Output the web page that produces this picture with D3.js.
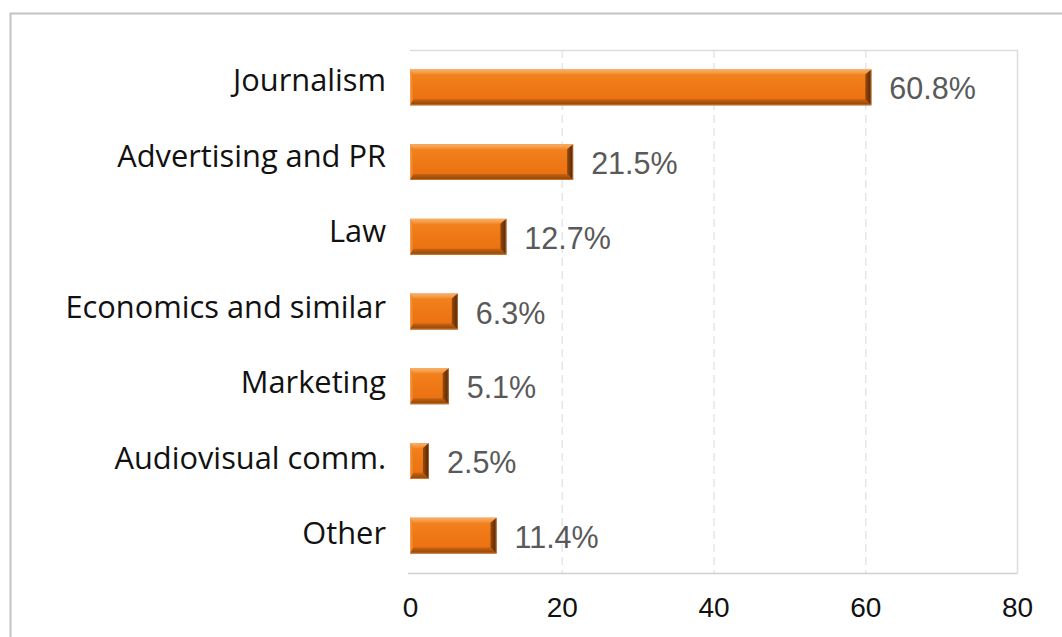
<!DOCTYPE html>
<html>
<head>
<meta charset="utf-8">
<script src="https://cdn.jsdelivr.net/npm/d3@7"></script>
<style>
  html, body { margin: 0; padding: 0; background: #fff; }
  svg { display: block; }
</style>
</head>
<body>
<svg id="chart" width="1062" height="637"></svg>
<script>
// Field of study shares (%)
const categories = ["Journalism", "Advertising and PR", "Law", "Economics and similar", "Marketing", "Audiovisual comm.", "Other"];
const values = [60.8, 21.5, 12.7, 6.3, 5.1, 2.5, 11.4];
const valueLabels = ["60.8%", "21.5%", "12.7%", "6.3%", "5.1%", "2.5%", "11.4%"];
const xTicks = [0, 20, 40, 60, 80];

const W = 1062, H = 637;
const plot = { left: 410, right: 1017, top: 50, bottom: 573 };

const svg = d3.select("#chart");

// outer frame
svg.append("rect")
  .attr("x", 10.5).attr("y", 13.5)
  .attr("width", W + 20).attr("height", H + 20)
  .attr("fill", "none").attr("stroke", "#c3c3c3").attr("stroke-width", 2);

const x = d3.scaleLinear().domain([0, 80]).range([plot.left, plot.right]);
const y = d3.scaleBand().domain(categories).range([plot.top, plot.bottom]).paddingInner(0.52).paddingOuter(0.26);

// gradients for bevelled bars
const defs = svg.append("defs");
function vGrad(id, stops) {
  const g = defs.append("linearGradient").attr("id", id).attr("x1", 0).attr("y1", 0).attr("x2", 0).attr("y2", 1);
  stops.forEach(s => g.append("stop").attr("offset", s[0]).attr("stop-color", s[1]));
}
function hGrad(id, stops) {
  const g = defs.append("linearGradient").attr("id", id).attr("x1", 0).attr("y1", 0).attr("x2", 1).attr("y2", 0);
  stops.forEach(s => g.append("stop").attr("offset", s[0]).attr("stop-color", s[1]));
}
vGrad("face", [[0, "#f3841f"], [0.5, "#ef7816"], [1, "#e86f10"]]);
vGrad("topBevel", [[0, "#f9b36f"], [1, "#f38a2c"]]);
vGrad("botBevel", [[0, "#c9630f"], [1, "#8a4308"]]);
hGrad("rightBevel", [[0, "#9a4a0b"], [1, "#4e2405"]]);
hGrad("leftBevel", [[0, "#f39a48"], [1, "#f07c1a"]]);

// grid lines
const grid = svg.append("g");
grid.selectAll("line.g").data(xTicks.filter(t => t > 0 && t < 80)).join("line")
  .attr("x1", d => x(d) + 0.5).attr("x2", d => x(d) + 0.5)
  .attr("y1", plot.top).attr("y2", plot.bottom)
  .attr("stroke", "#e6e6e6").attr("stroke-width", 1.5).attr("stroke-dasharray", "8,5");

// plot border (top, right) and baseline axis
grid.append("line").attr("x1", plot.left).attr("x2", plot.right + 0.5)
  .attr("y1", plot.top + 0.5).attr("y2", plot.top + 0.5).attr("stroke", "#dcdcdc").attr("stroke-width", 1.5);
grid.append("line").attr("x1", plot.right + 0.5).attr("x2", plot.right + 0.5)
  .attr("y1", plot.top).attr("y2", plot.bottom).attr("stroke", "#dcdcdc").attr("stroke-width", 1.5);

const xAxis = d3.axisBottom(x).tickValues(xTicks).tickSize(0).tickPadding(24).tickFormat(d3.format("d"));
const ax = svg.append("g").attr("transform", `translate(0,${plot.bottom})`).call(xAxis);
ax.select(".domain").attr("stroke", "#d0d0d0").attr("stroke-width", 1.5).attr("d", `M${plot.left - 2},0.5H${plot.right + 0.5}`);
ax.selectAll("text")
  .attr("font-family", "'Liberation Sans', Arial, sans-serif")
  .attr("font-size", 28).attr("fill", "#111");

// bars with bevelled edges
const bars = svg.append("g").selectAll("g.bar").data(categories).join("g").attr("class", "bar");
bars.each(function(c, i) {
  const g = d3.select(this);
  const x0 = x(0), x1 = x(values[i]);
  const y0 = y(c), h = y.bandwidth(), y1 = y0 + h;
  const w = x1 - x0;
  const bv = Math.min(6, w / 2.5), bt = 5, bb = 6;
  g.append("rect").attr("x", x0).attr("y", y0).attr("width", w).attr("height", h).attr("fill", "url(#face)");
  // top bevel
  g.append("polygon").attr("points", [[x0, y0], [x1, y0], [x1 - bv, y0 + bt], [x0 + bv * 0.5, y0 + bt]].join(" "))
    .attr("fill", "url(#topBevel)");
  // bottom bevel
  g.append("polygon").attr("points", [[x0, y1], [x1, y1], [x1 - bv, y1 - bb], [x0 + bv * 0.5, y1 - bb]].join(" "))
    .attr("fill", "url(#botBevel)");
  // left bevel
  g.append("polygon").attr("points", [[x0, y0], [x0 + bv * 0.5, y0 + bt], [x0 + bv * 0.5, y1 - bb], [x0, y1]].join(" "))
    .attr("fill", "url(#leftBevel)");
  // right bevel
  g.append("polygon").attr("points", [[x1, y0], [x1 - bv, y0 + bt], [x1 - bv, y1 - bb], [x1, y1]].join(" "))
    .attr("fill", "url(#rightBevel)");
  // light rim
  g.append("rect").attr("x", x0 + 0.5).attr("y", y0 + 0.5).attr("width", w - 1).attr("height", h - 1)
    .attr("fill", "none").attr("stroke", "#f6a45a").attr("stroke-opacity", 0.5).attr("stroke-width", 1);
});

// value labels
svg.append("g").selectAll("text").data(categories).join("text")
  .attr("x", (c, i) => x(values[i]) + 18)
  .attr("y", c => y(c) + y.bandwidth() / 2 + 1)
  .attr("dominant-baseline", "central")
  .attr("font-family", "'Liberation Sans', Arial, sans-serif")
  .attr("font-size", 30.5).attr("fill", "#595959")
  .text((c, i) => valueLabels[i]);

// category labels
svg.append("g").selectAll("text").data(categories).join("text")
  .attr("x", 386)
  .attr("y", (c, i) => y(c) + y.bandwidth() / 2 - 8 + i * 0.8)
  .attr("dominant-baseline", "central")
  .attr("text-anchor", "end")
  .attr("font-family", "'Open Sans', 'Noto Sans', sans-serif")
  .attr("font-size", 30.8).attr("fill", "#111")
  .text(c => c);
</script>
</body>
</html>
